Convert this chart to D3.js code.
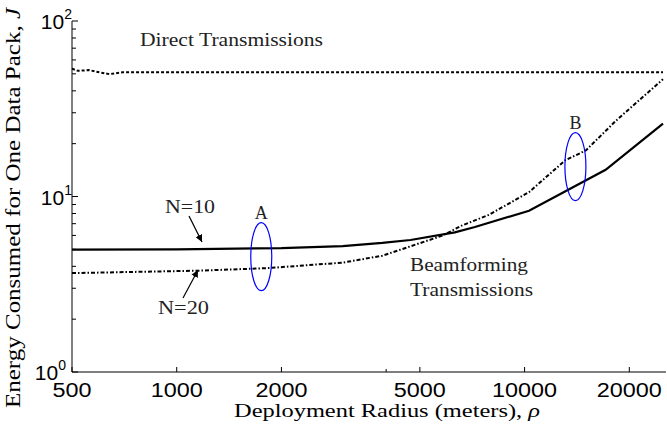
<!DOCTYPE html>
<html>
<head>
<meta charset="utf-8">
<script src="https://cdn.jsdelivr.net/npm/d3@7"></script>
<style>
  body { margin: 0; background: #fff; }
  svg { display: block; }
</style>
</head>
<body>
<div class="chart"></div>
<script>
// values (x = deployment radius in meters, y = energy J)
const direct_x = [500, 520, 560, 600, 640, 700, 1000, 2000, 5000, 10000, 25000];
const direct_y = [53.5, 52, 52.5, 51, 49.8, 51, 51, 51, 51, 51, 51];

const n10_x = [500, 1000, 2000, 3000, 3900, 4700, 6300, 7200, 10300, 17100, 25000];
const n10_y = [4.98, 5.0, 5.08, 5.22, 5.44, 5.65, 6.25, 6.7, 8.3, 14.2, 26];

const n20_x = [500, 1170, 1830, 3000, 3900, 5800, 6600, 7900, 10300, 13100, 15000, 18300, 25000];
const n20_y = [3.66, 3.78, 3.91, 4.2, 4.6, 5.98, 6.83, 7.86, 10.6, 16.1, 18.3, 27, 46.6];

const xTicks = [500, 1000, 2000, 5000, 10000, 20000];
const xMinorTicks = [4000];
const yTicks = [1, 10, 100];
const yTickLabels = ["0", "1", "2"];

const width = 667, height = 432;
const serif = "'Liberation Serif', 'DejaVu Serif', serif";
const sans = "'Liberation Sans', Arial, sans-serif";

const x = d3.scaleLog().domain([500, 25500]).range([72, 666]);
const y = d3.scaleLog().domain([1, 100]).range([372, 21]);

const svg = d3.select(".chart").append("svg")
  .attr("width", width)
  .attr("height", height);

// y minor ticks 2..9 per decade
const yMinor = [];
[1, 10].forEach(d => d3.range(2, 10).forEach(k => yMinor.push(d * k)));

const axes = svg.append("g").attr("stroke", "#000").attr("stroke-width", 1);
axes.append("line").attr("x1", x.range()[0]).attr("x2", x.range()[1])
  .attr("y1", y(1)).attr("y2", y(1));
axes.append("line").attr("x1", x.range()[0]).attr("x2", x.range()[0])
  .attr("y1", y(1)).attr("y2", y(100));

axes.selectAll(".xt").data(xTicks).join("line")
  .attr("x1", d => x(d)).attr("x2", d => x(d))
  .attr("y1", y(1)).attr("y2", y(1) - 5);
axes.selectAll(".xm").data(xMinorTicks).join("line")
  .attr("x1", d => x(d)).attr("x2", d => x(d))
  .attr("y1", y(1)).attr("y2", y(1) - 3);
axes.selectAll(".yt").data(yTicks).join("line")
  .attr("x1", x(500)).attr("x2", x(500) + 6)
  .attr("y1", d => y(d)).attr("y2", d => y(d));
axes.selectAll(".ym").data(yMinor).join("line")
  .attr("x1", x(500)).attr("x2", x(500) + 4)
  .attr("y1", d => y(d)).attr("y2", d => y(d));

// tick labels (the reference glyphs are a little wide, so stretch them)
svg.append("g")
  .attr("font-family", sans).attr("font-size", 20).attr("text-anchor", "middle")
  .selectAll("text").data(xTicks).join("text")
  .attr("x", d => x(d)).attr("y", y(1) + 25)
  .attr("textLength", d => String(d).length * 13)
  .attr("lengthAdjust", "spacingAndGlyphs")
  .text(d => d);

const yl = svg.append("g")
  .attr("font-family", sans).attr("font-size", 21).attr("text-anchor", "end")
  .selectAll("text").data(yTicks).join("text")
  .attr("x", (d, i) => i === 0 ? 66 : 72)
  .attr("y", (d, i) => y(d) + (i === 0 ? 8 : 8));
yl.append("tspan").text("10");
yl.append("tspan").attr("font-size", 14).attr("dy", -10).text((d, i) => yTickLabels[i]);

// axis titles
svg.append("text")
  .attr("font-family", serif).attr("font-size", 18).attr("text-anchor", "middle")
  .attr("x", 387).attr("y", 417)
  .attr("textLength", 306).attr("lengthAdjust", "spacingAndGlyphs")
  .html("Deployment Radius (meters), <tspan font-style='italic'>ρ</tspan>");
svg.append("text")
  .attr("font-family", serif).attr("font-size", 20).attr("text-anchor", "middle")
  .attr("transform", "translate(20,208) rotate(-90)")
  .attr("textLength", 400).attr("lengthAdjust", "spacingAndGlyphs")
  .html("Energy Consumed for One Data Pack, <tspan font-style='italic'>J</tspan>");

// series
const line = d3.line().x(d => x(d[0])).y(d => y(d[1]));
const series = [
  { xs: direct_x, ys: direct_y, dash: "3,2", w: 2 },
  { xs: n10_x, ys: n10_y, dash: null, w: 2.2 },
  { xs: n20_x, ys: n20_y, dash: "4,2,1.5,2", w: 2 },
];
svg.append("g").attr("fill", "none").attr("stroke", "#000")
  .selectAll("path").data(series).join("path")
  .attr("stroke-width", d => d.w)
  .attr("stroke-dasharray", d => d.dash)
  .attr("d", d => line(d3.zip(d.xs, d.ys)));

// ellipses A and B
const marks = [
  { label: "A", cx: 1750, cy: 4.54 },
  { label: "B", cx: 14000, cy: 14.8 },
];
svg.append("g").selectAll("ellipse").data(marks).join("ellipse")
  .attr("cx", d => x(d.cx)).attr("cy", d => y(d.cy))
  .attr("rx", 10.5).attr("ry", 34)
  .attr("fill", "none").attr("stroke", "#0000ff").attr("stroke-width", 1.2);

const notes = svg.append("g").attr("font-family", serif).attr("font-size", 18).attr("fill", "#222")
  .attr("lengthAdjust", "spacingAndGlyphs");
notes.selectAll(".ml").data(marks).join("text")
  .attr("text-anchor", "middle")
  .attr("x", d => x(d.cx)).attr("y", d => y(d.cy) - 38)
  .text(d => d.label);
const noteText = [
  { t: "Direct Transmissions", x: 140, y: 46, w: 183 },
  { t: "Beamforming", x: 410, y: 271, w: 118 },
  { t: "Transmissions", x: 410, y: 296, w: 123 },
  { t: "N=10", x: 165, y: 213, w: 50 },
  { t: "N=20", x: 158, y: 314, w: 51 },
];
notes.selectAll(".nt").data(noteText).join("text")
  .attr("x", d => d.x).attr("y", d => d.y)
  .attr("textLength", d => d.w).attr("lengthAdjust", "spacingAndGlyphs")
  .text(d => d.t);

// arrows
svg.append("defs").append("marker")
  .attr("id", "ah").attr("viewBox", "0 0 10 10").attr("refX", 10).attr("refY", 5)
  .attr("markerWidth", 6).attr("markerHeight", 6).attr("orient", "auto")
  .append("path").attr("d", "M0,0L10,5L0,10z").attr("fill", "#000");
const arrows = [
  [[189, 216], [202, 242]],
  [[183, 298], [198, 270]],
];
svg.append("g").selectAll("line").data(arrows).join("line")
  .attr("x1", d => d[0][0]).attr("y1", d => d[0][1])
  .attr("x2", d => d[1][0]).attr("y2", d => d[1][1])
  .attr("stroke", "#000").attr("stroke-width", 1.2)
  .attr("marker-end", "url(#ah)");
</script>
</body>
</html>
